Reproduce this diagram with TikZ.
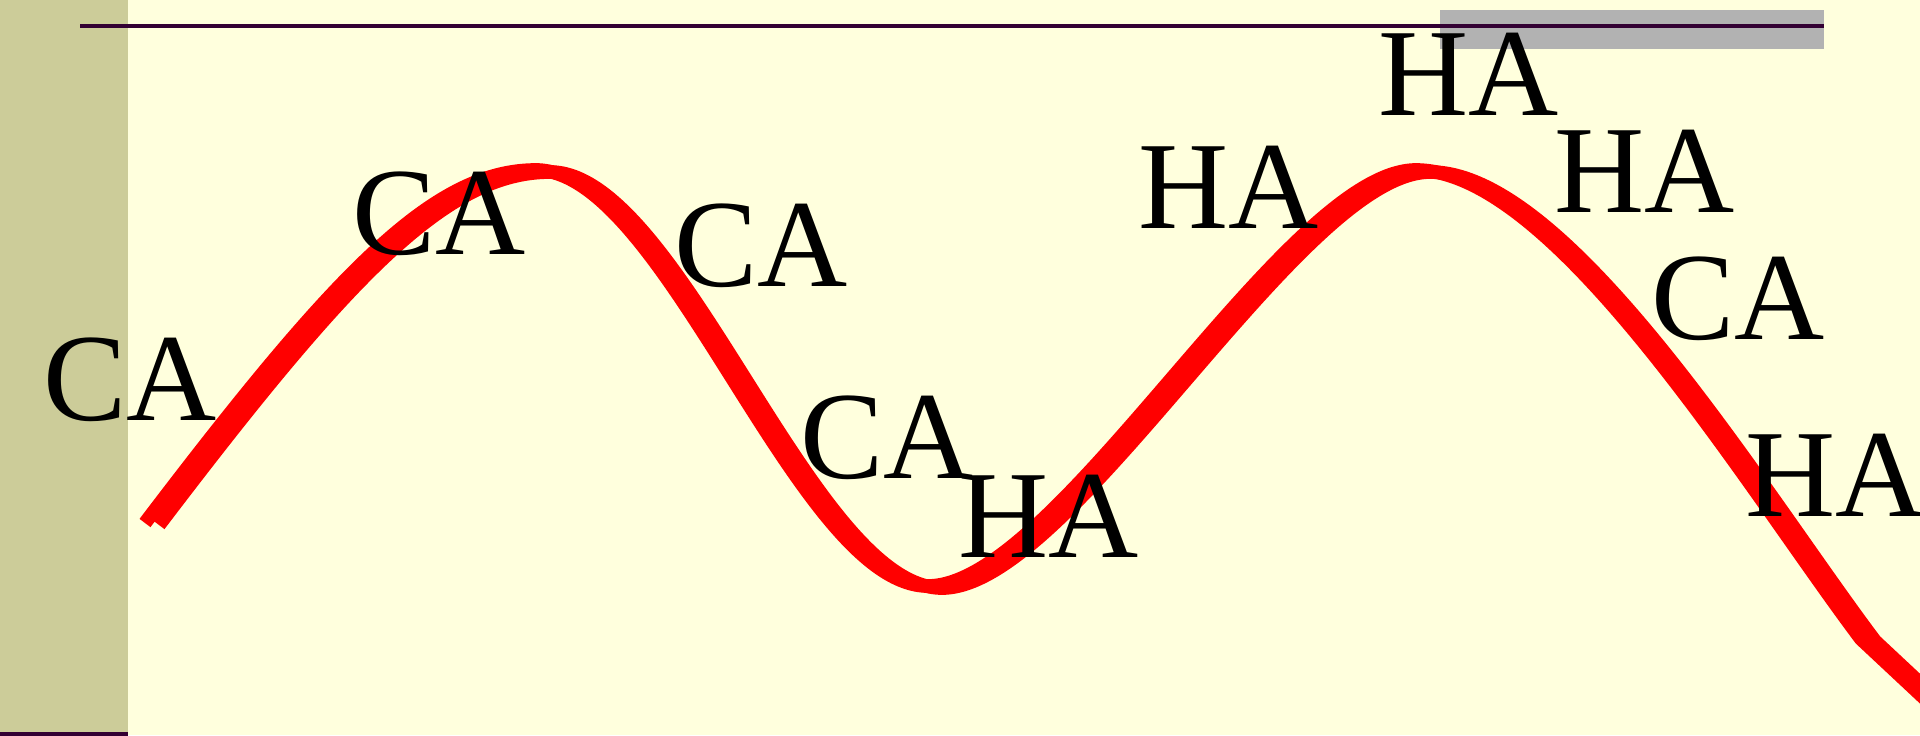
\documentclass[tikz,border=0pt]{standalone}
\usepackage{fontspec}
\setmainfont{Liberation Serif}
\usetikzlibrary{positioning}
\definecolor{paper}{HTML}{FFFFDD}
\definecolor{margin}{HTML}{CCCC99}
\definecolor{plum}{HTML}{330033}
\definecolor{greybar}{HTML}{B2B2B2}

\begin{document}
\begin{tikzpicture}[x=0.01cm, y=-0.01cm,
    word/.style={anchor=base west, inner sep=0pt, font=\fontsize{35.5}{40}\selectfont},
    wave/.style={draw=red, line width=3.9pt, line join=round}]
      % Background and margin band
      \useasboundingbox (0,0) rectangle (1920,735);
      \fill[paper] (0,0) rectangle (1920,735);
      \fill[margin] (0,0) rectangle (128,735);
      \fill[greybar] (1440,10) rectangle (1824,49);
      \draw[plum, line width=1.1pt] (80,26) -- (1824,26);
      \draw[plum, line width=1pt] (0,734) -- (128,734);

      % Red wave, two strokes side by side
      \begin{scope}
        \clip (0,0) rectangle (1920,735);
        \foreach \dx/\dy in {-7/-1, 7/1}
          \draw[wave, shift={(\dx,\dy)}] (152,524)
            .. controls (342,274) and (440,171) .. (543,171)
            .. controls (673,171) and (805,587) .. (935,587)
            .. controls (1065,587) and (1293,171) .. (1423,171)
            .. controls (1563,171) and (1755,490) .. (1868,640)
            -- (1945,712);
      \end{scope}

      % Labels
      \node[word] (ca1) at (43,420) {CA};
      \node[word] (ca2) at (352,254) {CA};
      \node[word] (ca3) at (674,286) {CA};
      \node[word] (ca4) at (800,478) {CA};
      \node[word] (ha1) at (958,557) {HA};
      \node[word] (ha2) at (1138,228) {HA};
      \node[word] (ha3) at (1378,115) {HA};
      \node[word] (ha4) at (1554,212) {HA};
      \node[word] (ca5) at (1651,339) {CA};
      \node[word] (ha5) at (1745,516) {HA};
    \end{tikzpicture}
\end{document}
